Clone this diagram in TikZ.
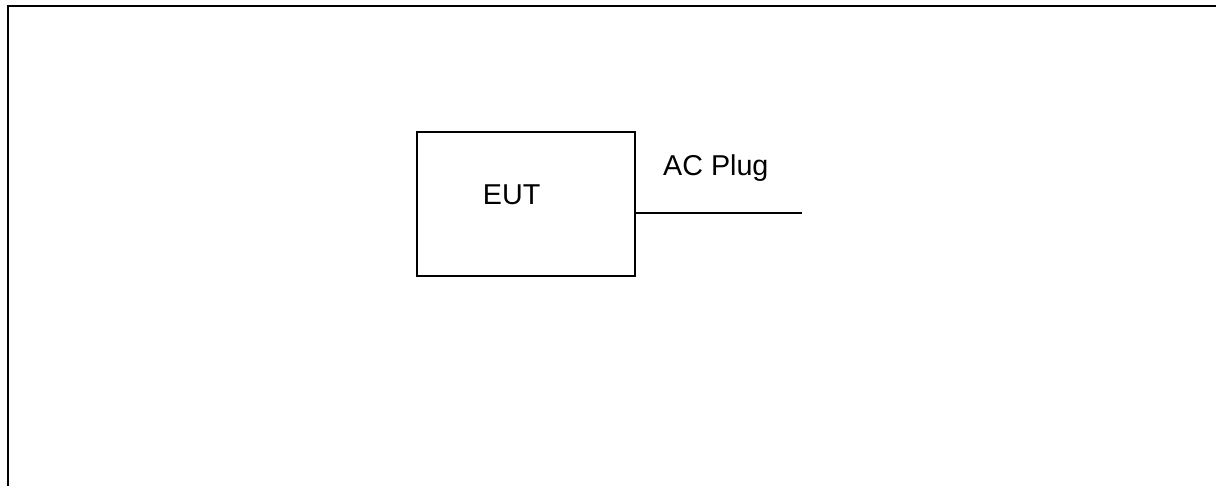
\documentclass[tikz,border=0pt]{standalone}
\usepackage{fontspec}
\setmainfont{Liberation Sans}
\begin{document}
\begin{tikzpicture}[x=1pt,y=-1pt,
  frameline/.style={line width=2pt},
  eutbox/.style={draw,line width=1.4pt,minimum width=218pt,minimum height=144pt,inner sep=0pt},
  lbl/.style={inner sep=0pt,font=\fontsize{28.7}{34}\selectfont},
  wire/.style={line width=1.4pt}]
\useasboundingbox (0,0) rectangle (1216,485);
\draw[frameline] (8,486) -- (8,6) -- (1217,6);
\node[eutbox] (eut) at (526,204) {};
\node[lbl,anchor=base west] (eutlabel) at (482.7,204) {EUT};
\node[lbl,anchor=base west] (plug) at (663,175) {AC Plug};
\coordinate (plugend) at (802,213);
\draw[wire] (eut.east |- plugend) -- (plugend);
\end{tikzpicture}
\end{document}
